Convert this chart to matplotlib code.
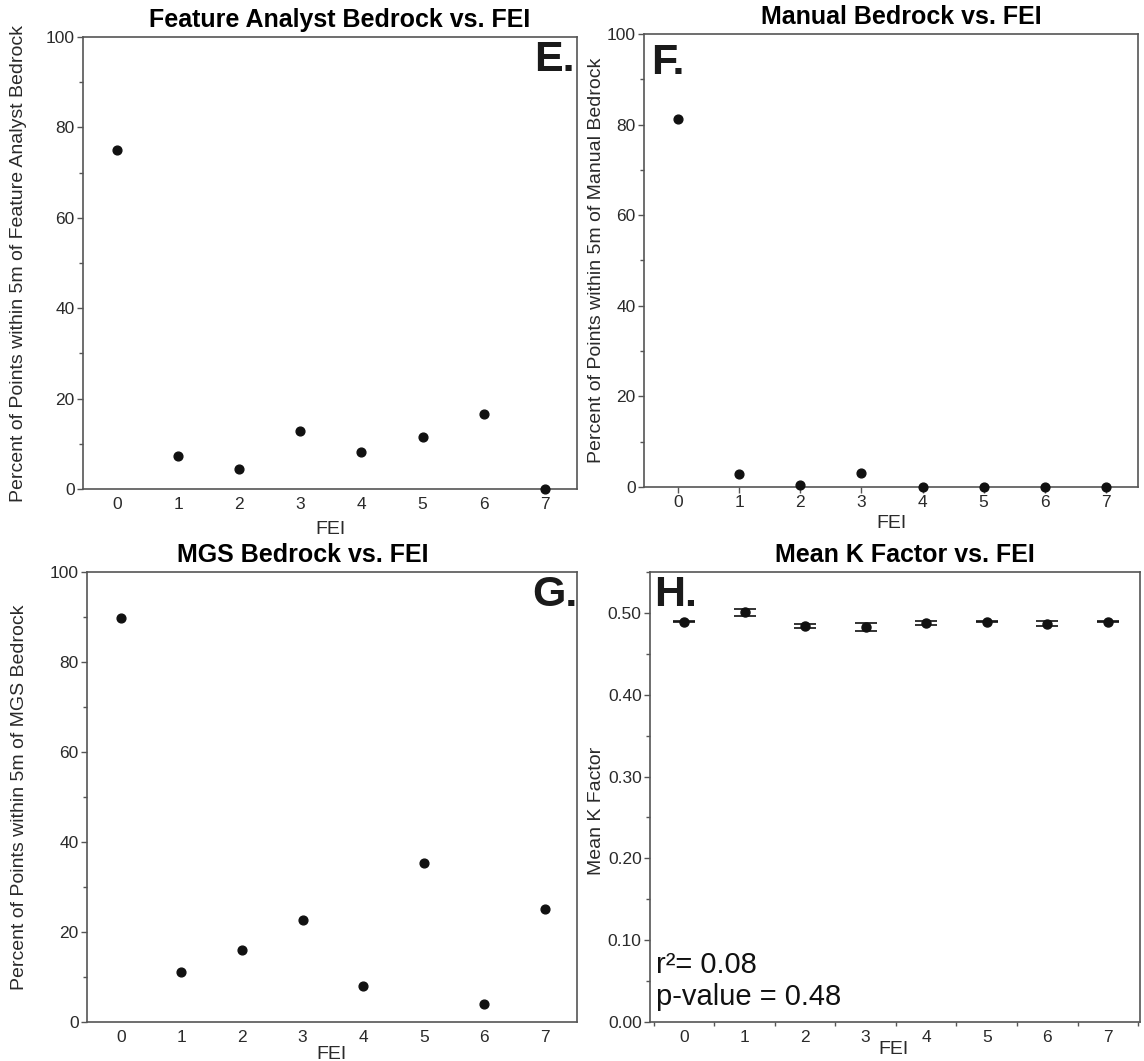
import matplotlib
matplotlib.use("Agg")
import matplotlib.pyplot as plt
from matplotlib.ticker import MultipleLocator, FormatStrFormatter

plt.rcParams['font.family'] = ['Liberation Sans', 'DejaVu Sans']

fei = [0, 1, 2, 3, 4, 5, 6, 7]
fa_bedrock = [75.0, 7.3, 4.4, 12.8, 8.1, 11.6, 16.6, 0.0]
manual_bedrock = [81.2, 2.9, 0.5, 3.1, 0.0, 0.0, 0.0, 0.0]
mgs_bedrock = [89.8, 11.0, 16.0, 22.6, 8.0, 35.3, 4.0, 25.0]
mean_k = [0.489, 0.501, 0.4843, 0.4831, 0.4879, 0.489, 0.4867, 0.489]
k_err = [0.0005, 0.0043, 0.0022, 0.0047, 0.0028, 0.0005, 0.0028, 0.0005]

fig = plt.figure(figsize=(11.44, 10.61), dpi=100)
spine_col = '#555555'
txt_col = '#2a2a2a'
TICK_FS = 12.5
LABEL_FS = 14
TITLE_FS = 18
LETTER_FS = 31

def style(ax, xticks_visible=True):
    for s in ax.spines.values():
        s.set_color(spine_col)
        s.set_linewidth(1.2)
    ax.tick_params(axis='both', which='major', labelsize=TICK_FS, colors=spine_col,
                   labelcolor=txt_col, length=4, width=1, pad=2)
    ax.tick_params(axis='both', which='minor', length=3, width=1, colors=spine_col)
    if not xticks_visible:
        ax.tick_params(axis='x', which='major', length=0, pad=6)
    ax.set_xlim(-0.56, 7.53)
    ax.set_xticks(fei)

def pct_panel(rect, data, title, ylabel, letter, letter_xy, title_x, ylab_x, xlab_y,
              xticks_visible):
    ax = fig.add_axes(rect)
    ax.scatter(fei, data, s=40, color='#111111', zorder=3, clip_on=False)
    ax.set_ylim(0, 100)
    ax.yaxis.set_major_locator(MultipleLocator(20))
    ax.yaxis.set_minor_locator(MultipleLocator(10))
    style(ax, xticks_visible)
    ax.set_ylabel(ylabel, fontsize=LABEL_FS, color=txt_col)
    ax.yaxis.set_label_coords(ylab_x, 0.5)
    ax.set_xlabel('FEI', fontsize=LABEL_FS, color=txt_col)
    ax.xaxis.set_label_coords(0.5, xlab_y)
    ax.text(title_x, 1.012, title, transform=ax.transAxes, ha='center', va='bottom',
            fontsize=TITLE_FS, fontweight='bold')
    ax.text(letter_xy[0], letter_xy[1], letter, transform=ax.transAxes, ha='center',
            va='center', fontsize=LETTER_FS, fontweight='bold', color='#1a1a1a')
    return ax

pct_panel([0.0726, 0.5391, 0.4318, 0.426], fa_bedrock,
          'Feature Analyst Bedrock vs. FEI',
          'Percent of Points within 5m of Feature Analyst Bedrock', 'E.',
          (0.955, 0.949), 0.52, -0.113, -0.071, False)
pct_panel([0.563, 0.541, 0.4318, 0.427], manual_bedrock,
          'Manual Bedrock vs. FEI',
          'Percent of Points within 5m of Manual Bedrock', 'F.',
          (0.049, 0.936), 0.52, -0.079, -0.062, True)
pct_panel([0.076, 0.0368, 0.4283, 0.4241], mgs_bedrock,
          'MGS Bedrock vs. FEI',
          'Percent of Points within 5m of MGS Bedrock', 'G.',
          (0.955, 0.949), 0.44, -0.120, -0.053, False)

axh = fig.add_axes([0.5682, 0.0368, 0.4283, 0.4241])
axh.errorbar(fei, mean_k, yerr=k_err, fmt='o', color='#111111', ms=6.5,
             capsize=8, capthick=1.2, elinewidth=1.2, ecolor='#111111', zorder=3)
axh.set_ylim(0, 0.55)
axh.yaxis.set_major_locator(MultipleLocator(0.1))
axh.yaxis.set_minor_locator(MultipleLocator(0.05))
axh.yaxis.set_major_formatter(FormatStrFormatter('%.2f'))
style(axh)
axh.tick_params(axis='x', which='major', length=0, pad=6)
axh.xaxis.set_minor_locator(MultipleLocator(0.5))
axh.set_ylabel('Mean K Factor', fontsize=LABEL_FS, color=txt_col)
axh.yaxis.set_label_coords(-0.092, 0.47)
axh.set_xlabel('FEI', fontsize=LABEL_FS, color=txt_col)
axh.xaxis.set_label_coords(0.496, -0.042)
axh.text(0.52, 1.012, 'Mean K Factor vs. FEI', transform=axh.transAxes, ha='center',
         va='bottom', fontsize=TITLE_FS, fontweight='bold')
axh.text(0.053, 0.949, 'H.', transform=axh.transAxes, ha='center', va='center',
         fontsize=LETTER_FS, fontweight='bold', color='#1a1a1a')
axh.text(0.012, 0.127, 'r\u00b2= 0.08', transform=axh.transAxes, ha='left', va='center',
         fontsize=21, color='#111111')
axh.text(0.012, 0.055, 'p-value = 0.48', transform=axh.transAxes, ha='left', va='center',
         fontsize=21, color='#111111')

fig.savefig('out.png', dpi=100, facecolor='white')
